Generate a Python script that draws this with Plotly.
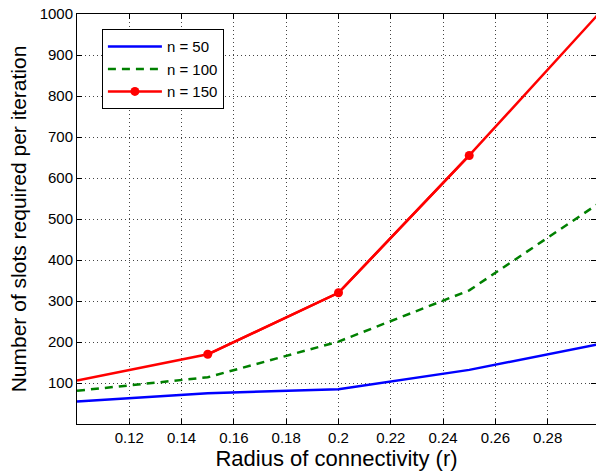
import plotly.graph_objects as go

r_vals = [0.10, 0.15, 0.20, 0.25, 0.30]
n50 = [55, 75, 85, 132, 195]
n100 = [81, 114, 201, 326, 540]
n150 = [106, 170, 320, 655, 1004]

x_ticks = [0.12, 0.14, 0.16, 0.18, 0.20, 0.22, 0.24, 0.26, 0.28]
x_ticktext = ["0.12", "0.14", "0.16", "0.18", "0.2", "0.22", "0.24", "0.26", "0.28"]
y_ticks = [100, 200, 300, 400, 500, 600, 700, 800, 900, 1000]

FONT = "Liberation Sans, Arial, sans-serif"

fig = go.Figure()
fig.add_trace(go.Scatter(x=r_vals, y=n50, mode="lines", name="n = 50",
                         line=dict(color="#0000ff", width=2.5)))
fig.add_trace(go.Scatter(x=r_vals, y=n100, mode="lines", name="n = 100",
                         line=dict(color="#008000", width=2.5, dash="8px,6px")))
fig.add_trace(go.Scatter(x=r_vals, y=n150, mode="lines", showlegend=False,
                         line=dict(color="#ff0000", width=2.5)))
fig.add_trace(go.Scatter(x=r_vals[1:4], y=n150[1:4], mode="lines+markers", name="n = 150",
                         line=dict(color="#ff0000", width=2.5),
                         marker=dict(color="#ff0000", size=9)))

axis_common = dict(
    showline=True, linecolor="black", linewidth=1, mirror="ticks",
    ticks="inside", ticklen=5, tickcolor="black",
    showgrid=True, gridcolor="#444444", gridwidth=1, griddash="1px,3px",
    zeroline=False,
    tickfont=dict(family=FONT, size=15, color="black"),
)

fig.update_xaxes(range=[0.1, 0.29847], tickvals=x_ticks, ticktext=x_ticktext,
                 title=dict(text="Radius of connectivity (r)", standoff=2,
                            font=dict(family=FONT, size=22, color="black")),
                 **axis_common)
fig.update_yaxes(range=[0, 1000], tickvals=y_ticks,
                 title=dict(text="Number of slots required per iteration", standoff=7,
                            font=dict(family=FONT, size=21, color="black")),
                 **axis_common)

fig.update_layout(
    width=596, height=471,
    margin=dict(l=77, r=0, t=14, b=47, autoexpand=False),
    paper_bgcolor="white", plot_bgcolor="white",
    font=dict(family=FONT, color="black"),
    legend=dict(x=0.048, y=0.963, xanchor="left", yanchor="top",
                bgcolor="white", bordercolor="black", borderwidth=1,
                font=dict(size=15), itemwidth=54, tracegroupgap=0),
    showlegend=True,
)

fig.write_html("out.html", config={"displayModeBar": False},
               post_script="document.body.style.margin='0';document.body.style.overflow='hidden';")
